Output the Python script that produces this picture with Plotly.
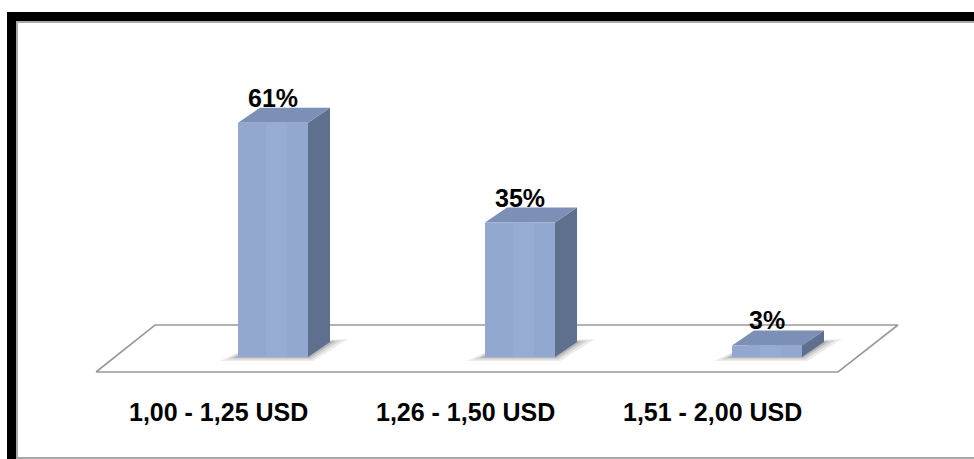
import plotly.graph_objects as go

# ---- data -------------------------------------------------------------
CATEGORIES = ["1,00 - 1,25 USD", "1,26 - 1,50 USD", "1,51 - 2,00 USD"]
SHARES = [61, 35, 3]
VALUE_LABELS = ["61%", "35%", "3%"]

# ---- canvas / scale setup ----------------------------------------------
W, H = 974, 459
X0_PX, PX_PER_CAT = 273.0, 247.0      # pixel of first category, pixels per category step
BASE_PX, PX_PER_PCT = 357.0, 3.84     # pixel of 0 %, pixels per percent


def dx(px):
    """horizontal pixel distance -> x data units"""
    return px / PX_PER_CAT


def dy(px):
    """vertical pixel distance -> y data units"""
    return px / PX_PER_PCT


x_range = [-X0_PX / PX_PER_CAT, (W - X0_PX) / PX_PER_CAT]
y_range = [(BASE_PX - H) / PX_PER_PCT, BASE_PX / PX_PER_PCT]

# bar shape in data units
HALF_W = dx(35)
DEPTH_X, DEPTH_Y = dx(22), dy(15)

FRONT = "#93A8D1"
FRONT_HI = "#97ACD4"
TOP = "#7C8FB7"
SIDE = "#5F6F8E"

fig = go.Figure()


def poly(xs, ys, color, line=None, opacity=1.0):
    fig.add_trace(go.Scatter(
        x=list(xs) + [xs[0]], y=list(ys) + [ys[0]],
        mode="lines", fill="toself", fillcolor=color,
        line=dict(color=line or color, width=0.6 if line else 0),
        opacity=opacity, hoverinfo="skip", showlegend=False))


# floor of the 3-D plot area
floor_front = dy(-15)
floor_back = dy(32)
floor_x = [dx(96 - X0_PX), dx(838 - X0_PX), dx(898 - X0_PX), dx(155 - X0_PX)]
floor_y = [floor_front, floor_front, floor_back, floor_back]
poly(floor_x, floor_y, "white", line="#9a9a9a")
fig.data[-1].line.width = 1.6

# soft shadows under the bars
for i, v in enumerate(SHARES):
    for grow, alpha in [(dx(18), 0.08), (dx(11), 0.10), (dx(5), 0.14)]:
        k = grow / dx(18)
        sx = [i - HALF_W - grow, i + HALF_W + grow * 0.3,
              i + HALF_W + DEPTH_X + grow, i - HALF_W + DEPTH_X]
        sy = [-dy(4) * k, -dy(4) * k, DEPTH_Y + dy(3) * k, DEPTH_Y]
        poly(sx, sy, f"rgba(0,0,0,{alpha})")

# 3-D bars: side, top, front faces
for i, v in enumerate(SHARES):
    l, r = i - HALF_W, i + HALF_W
    poly([r, r + DEPTH_X, r + DEPTH_X, r], [0, DEPTH_Y, v + DEPTH_Y, v], SIDE)
    poly([l, r, r + DEPTH_X, l + DEPTH_X], [v, v, v + DEPTH_Y, v + DEPTH_Y], TOP)
    poly([l, r, r, l], [0, 0, v, v], FRONT)
    # faint lighter band on the front face
    poly([i - HALF_W * 0.2, i + HALF_W * 0.4, i + HALF_W * 0.4, i - HALF_W * 0.2],
         [0, 0, v, v], FRONT_HI)

FONT = dict(family="Liberation Sans, Arial, sans-serif", size=25, color="black")

annotations = []
for i, (v, lab) in enumerate(zip(SHARES, VALUE_LABELS)):
    annotations.append(dict(
        x=i, y=v + DEPTH_Y, xref="x", yref="y", text=f"<b>{lab}</b>",
        showarrow=False, xanchor="center", yanchor="bottom", yshift=-6,
        font=FONT))
for i, cat in enumerate(CATEGORIES):
    annotations.append(dict(
        x=i - dx(55), y=dy(-55), xref="x", yref="y", text=f"<b>{cat}</b>",
        showarrow=False, xanchor="center", yanchor="middle", font=FONT))


def px_x(p):
    return p / W


def px_y(p):
    return 1 - p / H


shapes = [
    # black outer frame
    dict(type="rect", xref="paper", yref="paper", layer="below",
         x0=px_x(7), x1=px_x(W + 20), y0=px_y(H + 20), y1=px_y(12),
         fillcolor="black", line=dict(width=0)),
    # white chart area with a thin grey border
    dict(type="rect", xref="paper", yref="paper", layer="below",
         x0=px_x(17), x1=px_x(W + 20), y0=px_y(458), y1=px_y(22),
         fillcolor="white", line=dict(color="#a8a8a8", width=2)),
]

fig.update_layout(
    width=W, height=H, autosize=False,
    margin=dict(l=0, r=0, t=0, b=0),
    paper_bgcolor="white", plot_bgcolor="rgba(0,0,0,0)",
    xaxis=dict(range=x_range, visible=False, fixedrange=True),
    yaxis=dict(range=y_range, visible=False, fixedrange=True),
    showlegend=False, annotations=annotations, shapes=shapes,
)

fig.write_html("out.html", config={"displayModeBar": False})
